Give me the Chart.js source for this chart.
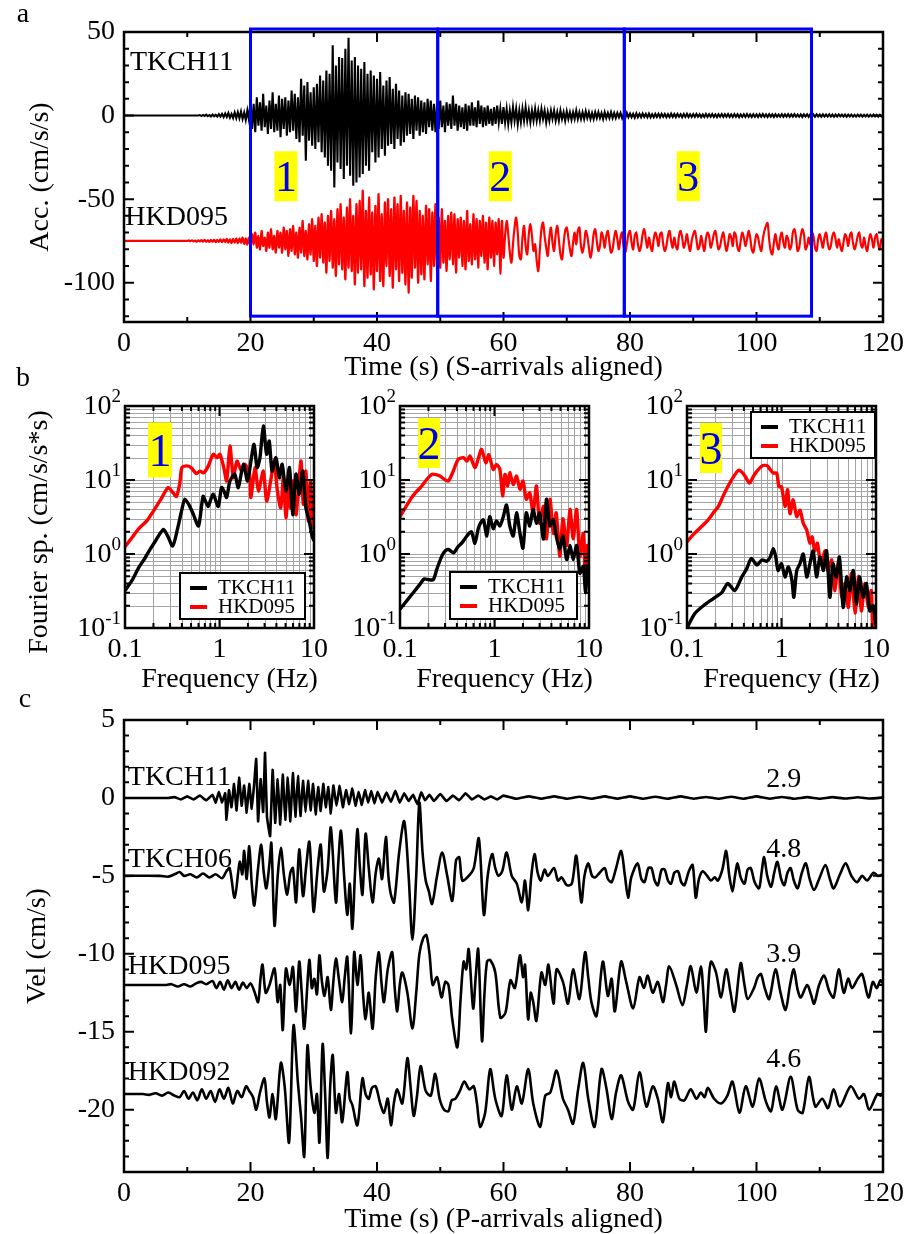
<!DOCTYPE html>
<html>
<head>
<meta charset="utf-8">
<script src="https://cdn.jsdelivr.net/npm/chart.js@4.4.0/dist/chart.umd.min.js"></script>
<style>
  body { margin: 0; background: #fff; }
  #wrap { position: relative; width: 909px; height: 1234px; overflow: hidden; }
  canvas { position: absolute; left: 0; top: 0; }
</style>
</head>
<body>
<div id="wrap">
  <canvas id="panelA" width="909" height="1234"></canvas>
  <canvas id="panelB1" width="909" height="1234"></canvas>
  <canvas id="panelB2" width="909" height="1234"></canvas>
  <canvas id="panelB3" width="909" height="1234"></canvas>
  <canvas id="panelC" width="909" height="1234"></canvas>
</div>
<script>
// ---- tick labels ----
const timeTicks = [0, 20, 40, 60, 80, 100, 120];
const accTicks = [50, 0, -50, -100];
const velTicks = [5, 0, -5, -10, -15, -20];
const freqTicks = [0.1, 1, 10];
const specTicks = [0.1, 1, 10, 100];

// ---- panel a: time windows ----
const windowEdges = [20, 49.6, 79.1, 108.7];
const windowRange = [-120, 51.8];
const windowNames = ['1', '2', '3'];
const windowLabelTimes = [25.6, 59.5, 89.2];
const windowLabelAcc = -36.3;

// ---- panel a: accelerations, one sample every accDt seconds ----
const accDt = 0.25;
const accTKCH11 = [
  0,0,0,0,0,0,0,0,0,0,0,0,0,0,0,0,0,0,0,0,
  0,0,0,0,0,0,0,0,0,0,0,0,0,0,0,0,0,0,0,0,
  0,0,0,0,0,0,0,0,0.3,-0.3,0.4,-0.2,0.5,-0.4,0.3,-0.5,0.6,-0.4,0.5,-0.6,
  0.8,-0.6,1,-0.9,1.2,-0.8,1.5,-1.2,1,-1.4,1.8,-1.5,2,-1.6,2.4,-2,1.8,-2.6,3,-2.4,
  9,-8,7,-10,11,-6,8,-9,13,-7,6,-11,9,-8,14,-10,7,-9,12,-13,
  10,-8,11,-12,9,-10,15,-9,13,-14,11,-16,22,-12,18,-27,20,-15,14,-18,
  17,-20,19,-16,24,-22,21,-25,27,-30,25,-33,42,-43,30,-28,35,-32,34.5,-38,
  40,-30,46.6,-36,33,-42,35,-40,30,-37,28,-35,32,-30,25,-33,27,-22,24,-28,
  22,-25,26,-20,18,-24,21,-18,23,-17,16,-20,19,-14,15,-18,12,-16,14,-12,
  13,-11,10,-14,12,-9,11,-12,9,-10,8,-11,10,-7,9,-9,7,-10,8,-8,
  9,-7,6,-10,8,-6,7,-8,12,-6,7,-9,6,-7,5,-8,7,-9,6,-6,
  8,-6,5,-7,9,-5,6,-7,5,-6,6,-5,4,-6,5,-5,6,-4,4,-5,
  5,-4,4,-5,3,-4,5,-3,4,-5,3,-4,4,-3,5,-3,3,-4,3,-3,
  4,-3,3,-3,4,-2,3,-4,2,-3,3,-2,3,-3,2,-3,3,-2,2,-3,
  2.5,-2,2,-2.5,2,-2,3,-2,2,-2,2,-2,2.5,-1.5,2,-2,1.5,-2,2,-1.5,
  2,-1.5,1.5,-2,2,-1.5,1.5,-1.5,2,-1.5,1.5,-1.5,1.5,-1,1.5,-1.5,1,-1.5,1.5,-1,
  1.2,-1,1,-1.2,1.3,-1,1,-1,1.2,-0.8,1,-1,1.2,-1,0.8,-1,1,-0.8,1,-1,
  1,-0.8,0.9,-1,0.8,-0.9,1.1,-0.8,0.9,-0.9,1,-0.7,0.8,-1,0.9,-0.8,1,-0.9,0.8,-0.8,
  0.9,-0.8,1,-0.7,0.8,-0.9,0.7,-0.8,1,-0.8,0.8,-0.7,0.9,-0.8,0.7,-0.9,0.8,-0.7,0.9,-0.8,
  0.8,-0.7,0.9,-0.8,0.7,-0.8,0.9,-0.7,0.8,-0.9,0.7,-0.7,0.8,-0.8,0.9,-0.7,0.7,-0.8,0.8,-0.7,
  0.7,-0.8,0.8,-0.7,0.9,-0.7,0.7,-0.8,0.8,-0.6,0.7,-0.8,0.8,-0.7,0.6,-0.7,0.8,-0.7,0.7,-0.6,
  0.8,-0.7,0.7,-0.6,0.8,-0.7,0.6,-0.7,0.7,-0.8,0.7,-0.6,0.7,-0.7,0.8,-0.6,0.6,-0.7,0.7,-0.6,
  0.6,-0.7,0.7,-0.6,0.6,-0.6,0.7,-0.6,0.6,-0.7,0.6,-0.6,0.7,-0.5,0.6,-0.6,0.6,-0.7,0.6,-0.5,
  0.6,-0.6,0.5,-0.6,0.6,-0.5,0.6,-0.6,0.5,-0.5,0.6,-0.6,0.5,-0.5,0.6,-0.5,0.5,-0.6,0.5,-0.5,
  0
];
const accHKD095Base = -75;
const accHKD095 = [
  0,0,0,0,0,0,0,0,0,0,0,0,0,0,0,0,0,0,0,0,
  0,0,0,0,0,0,0,0,0,0,0,0,0,0,0,0,0,0,0,0,
  0,0.3,-0.2,0.4,-0.3,0.2,-0.5,0.4,-0.3,0.5,-0.4,0.6,-0.5,0.4,-0.6,0.7,-0.5,0.6,-0.8,0.7,
  -0.6,0.9,-0.8,1,-0.7,1.2,-1,0.9,-1.3,1.2,-1,1.5,-1.4,1.6,-1.2,2,-1.8,1.5,-2.2,2,
  -3,4,-2,5,-4,3,-5,6,-3,2,-6,5,-4,7,-5,3,-7,6,-4,5,
  -7,8,-5,6,-9,7,-6,9,-8,5,-10,8,-7,12,-9,6,-11,10,-8,13,
  -12,9,-15,14,-10,16,-13,11,-19,15,-12,18,-16,13,-21,19,-14,22,-17,14,
  -23,20,-16,25,-18,15,-26,22,-19,24,-17,30,-27,18,-22,26,-20,17,-29,21,
  -18,28,-24,16,-27,23,-15,25,-21,19,-28,26,-17,22,-24,27,-19,18,-26,23,
  -31,20,-22,27,-16,24,-25,18,-20,15,-23,21,-14,19,-24,17,-15,22,-18,14,
  -16,19,-13,12,-18,15,-11,17,-14,16,-19,13,-10,14,-15,12,-17,18,-12,10,
  -14,16,-11,13,-16,12,-9,15,-13,11,-17,14,-10,12,-15,11,-8,13,-19.6,12,
  -10,3,12,4,-7,-13,-2,8,14,5,-9,-11,2,9,-3,-8,4,10,3,-6,
  -2,-12,-18,-5,7,11,3,-4,-9,2,8,-1,-6,4,9,1,-8,-11,-2,6,
  8,2,-5,-9,-1,5,-2,6,8,-3,-7,-2,6,3,-4,-10,-5,4,7,0,
  -6,-3,5,2,-4,3,6,-1,-7,-5,2,6,1,-5,2,5,-3,-7,-2,4,
  6,-1,-5,3,5,-2,-6,-3,4,7,1,-4,2,-3,-6,1,5,2,-3,4,
  5,-2,-6,-3,3,6,0,-4,2,-3,-5,3,6,2,-4,-1,4,-2,-6,0,
  4,6,1,-5,-3,3,-2,-6,1,5,3,-4,-1,4,6,0,-5,-3,2,5,
  -1,-6,-2,4,2,-3,5,3,-4,-6,0,5,2,-3,1,6,2,-5,-7,-1,
  4,2,-3,-6,1,6,9,10.7,1,-6,-8,-1,4,-2,-5,2,5,-1,-4,3,
  1,-5,-3,5,7,2,-6,-4,3,7,4,-5,-3,2,-2,5,3,-4,-6,1,
  4,0,-4,2,5,-1,-5,-3,3,5,1,-4,1,-3,-6,-1,4,2,-3,3,
  5,-1,-5,-2,3,5,-2,-4,2,-3,-6,0,4,1,-4,2,4,-2,-5,1,
  0
];

// ---- panel b: Fourier spectra, [frequency Hz, amplitude] ----
const spec1TKCH11 = [[0.1,0.32],[0.12,0.45],[0.14,0.66],[0.16,0.85],[0.18,1.1],[0.21,1.5],[0.254,2.15],[0.28,1.8],[0.32,1.28],[0.36,2.2],[0.4,4],[0.43,5.5],[0.48,4.5],[0.53,3.4],[0.6,2.4],[0.67,6],[0.72,5],[0.76,4.4],[0.81,5.5],[0.86,6.4],[0.97,4.4],[1.05,7.9],[1.12,7],[1.19,5.8],[1.29,9.7],[1.45,12],[1.58,7.9],[1.79,16.3],[1.98,9.7],[2.15,18],[2.32,30.3],[2.5,14.7],[2.68,20],[2.91,53.6],[3.15,22.3],[3.36,33.6],[3.6,13.2],[3.96,20],[4.3,10.7],[4.6,16.3],[5.05,7.1],[5.5,14.7],[5.96,3.4],[6.45,12],[7,6.4],[7.6,13.2],[8.2,4.2],[8.9,2.8],[9.6,1.7],[10,1.5]];
const spec1HKD095 = [[0.1,1.25],[0.12,1.7],[0.14,2.2],[0.17,2.8],[0.2,3.8],[0.24,5.5],[0.287,7.9],[0.32,6.8],[0.35,6],[0.38,9],[0.4,14.7],[0.45,15.5],[0.5,14.7],[0.57,12.2],[0.62,13.2],[0.68,12.5],[0.76,15.4],[0.86,22.3],[0.94,20],[1.01,22.3],[1.11,14.7],[1.19,9.7],[1.29,28.8],[1.4,10.7],[1.53,18],[1.71,13.2],[1.86,16.3],[2.08,12],[2.15,5.8],[2.38,14.7],[2.58,7.1],[2.91,13.2],[3.15,5.2],[3.48,9.7],[3.77,18],[4.1,7.1],[4.45,4.2],[4.74,10.7],[5.05,3.1],[5.4,8.8],[5.65,4.2],[6,9.7],[6.45,3.4],[6.8,7.1],[7.3,18],[7.7,4.7],[8.2,13.2],[8.7,2.8],[9.2,9.7],[9.6,2.3],[10,3.4]];
const spec2TKCH11 = [[0.1,0.18],[0.12,0.24],[0.138,0.3],[0.16,0.38],[0.18,0.46],[0.2,0.45],[0.225,0.45],[0.245,0.62],[0.276,0.93],[0.3,1.1],[0.325,1.15],[0.37,1.04],[0.41,1.25],[0.45,1.4],[0.51,1.75],[0.57,2],[0.62,1.4],[0.68,2.3],[0.76,2.9],[0.83,1.75],[0.89,3.2],[0.97,2.2],[1.05,2.8],[1.14,2.4],[1.24,3.2],[1.34,4.6],[1.45,2.4],[1.58,1.75],[1.71,3.6],[1.86,1.9],[2,1.2],[2.17,3.6],[2.36,2.4],[2.56,4],[2.78,2.6],[3,3.6],[3.3,1.6],[3.55,5.5],[3.86,2.4],[4.2,2.9],[4.5,1.75],[4.9,1.15],[5.3,1.75],[5.8,0.84],[6.3,1.3],[6.8,0.84],[7.4,1.3],[8,0.55],[8.7,0.68],[9.2,0.3],[9.6,0.68],[10,0.45]];
const spec2HKD095 = [[0.1,3.2],[0.115,4.3],[0.133,5.8],[0.15,7],[0.17,8.3],[0.19,10],[0.216,11.9],[0.24,11.8],[0.265,11.3],[0.295,10.2],[0.325,9.7],[0.36,12.5],[0.414,19],[0.47,20],[0.51,18],[0.55,21],[0.62,14.7],[0.67,19],[0.73,25.9],[0.81,17.1],[0.87,22],[0.97,13.9],[1.05,16.2],[1.14,13.9],[1.22,6.1],[1.29,11.9],[1.38,8.3],[1.45,12.6],[1.58,8.7],[1.71,11.3],[1.86,7.5],[2,9.7],[2.17,5.5],[2.36,6.7],[2.56,3.6],[2.78,8.3],[3,2.6],[3.3,4.4],[3.55,1.6],[3.86,5.5],[4.2,1.9],[4.5,3.6],[4.9,0.93],[5.3,3],[5.8,1.3],[6.3,4],[6.8,1.6],[7.4,4],[8,0.93],[8.7,1.9],[9.2,0.37],[9.6,1.3],[10,1]];
const spec3TKCH11 = [[0.1,0.1],[0.12,0.155],[0.149,0.2],[0.19,0.25],[0.233,0.3],[0.27,0.4],[0.32,0.32],[0.38,0.49],[0.43,0.64],[0.48,0.87],[0.55,0.71],[0.62,0.83],[0.7,0.8],[0.76,0.91],[0.82,1.18],[0.87,0.91],[0.92,0.6],[1,0.74],[1.09,0.49],[1.18,0.67],[1.29,0.44],[1.35,0.26],[1.45,0.6],[1.57,0.74],[1.7,1],[1.85,0.49],[2,0.74],[2.16,1.1],[2.35,0.49],[2.55,0.91],[2.78,0.6],[3,1.1],[3.25,0.26],[3.5,0.74],[3.8,0.49],[4.1,0.91],[4.5,0.19],[4.9,0.49],[5.3,0.32],[5.75,0.6],[6.2,0.21],[6.7,0.49],[7.3,0.26],[7.9,0.4],[8.6,0.17],[9.3,0.2],[10,0.11]];
const spec3HKD095 = [[0.1,1.46],[0.115,1.8],[0.13,2.1],[0.15,2.5],[0.168,2.9],[0.19,3.6],[0.215,4.4],[0.24,6],[0.27,8.1],[0.31,11],[0.35,13.5],[0.38,12.8],[0.41,11.3],[0.46,9.1],[0.5,11],[0.54,12.8],[0.62,15.4],[0.7,15.7],[0.76,13.8],[0.82,12.4],[0.89,12.4],[0.94,8.1],[1,8.1],[1.09,4.4],[1.16,7.4],[1.23,3.5],[1.33,5.4],[1.45,3.2],[1.57,3.9],[1.7,2.6],[1.85,2.1],[2,1.4],[2.11,1.7],[2.25,1.1],[2.4,1.4],[2.6,0.74],[2.9,1.1],[3.1,0.6],[3.4,0.83],[3.65,0.32],[4,0.74],[4.35,0.26],[4.7,0.4],[5.1,0.19],[5.5,0.55],[6,0.16],[6.5,0.5],[7,0.17],[7.6,0.4],[8.3,0.19],[8.9,0.32],[9.3,0.09],[10,0.14]];

// ---- panel c: velocities, [time s, cm/s] (traces already offset) ----
const velTKCH11 = [[0,0],[7,0],[8,0.05],[9,-0.1],[10,0.1],[11,-0.1],[12,0.15],[13,-0.15],[14,0.2],[14.5,-0.3],[15,0.4],[15.5,-0.3],[16,0.3],[16.2,-1.4],[16.6,0.5],[17,-0.6],[17.4,0.9],[17.8,-0.8],[18.2,1.3],[18.6,-0.5],[19,0.8],[19.4,-0.95],[19.8,0.9],[20.2,-0.7],[20.6,1],[20.9,2.5],[21.2,-1.5],[21.6,1.2],[22,-0.9],[22.3,2.9],[22.6,-1.2],[23.1,-2.45],[23.5,1.8],[23.9,-1.6],[24.3,1.2],[24.7,-1.7],[25.1,1.5],[25.5,-1.4],[25.9,1.3],[26.3,-1.5],[26.7,1.6],[27.1,-1.2],[27.5,1.4],[27.9,-1.16],[28.3,1.1],[28.7,-0.9],[29.1,1.1],[29.5,-0.8],[29.9,0.9],[30.3,-1.05],[30.7,0.7],[31.1,-0.84],[31.5,0.9],[31.9,-0.6],[32.3,0.7],[32.7,-1],[33.1,0.8],[33.6,-0.5],[34.1,0.77],[34.6,-0.6],[35.1,0.5],[35.6,-0.4],[36.1,0.6],[36.6,-0.5],[37.1,0.4],[37.6,-0.45],[38.1,0.5],[38.6,-0.3],[39.1,0.45],[39.6,-0.35],[40.1,0.4],[40.8,-0.3],[41.5,0.35],[42.2,-0.25],[42.9,0.45],[43.6,-0.3],[44.3,0.3],[45,-0.2],[45.7,0.2],[46.4,-0.4],[47,0.35],[47.6,-0.15],[48.3,0.2],[49,-0.2],[50,0.25],[51,-0.2],[52,0.15],[53,-0.15],[54,0.3],[55,-0.1],[56,0.15],[57,-0.1],[58,0.1],[59,-0.1],[60,0.15],[62,-0.05],[64,0.1],[66,-0.05],[68,0.1],[70,-0.05],[72,0.08],[74,-0.05],[76,0.1],[78,-0.05],[80,0.1],[82,-0.05],[84,0.08],[86,-0.05],[88,0.1],[90,-0.05],[92,0.06],[94,-0.05],[96,0.08],[98,-0.05],[100,0.1],[102,-0.05],[104,0.06],[106,-0.05],[108,0.05],[110,-0.05],[112,0.05],[114,-0.04],[116,0.04],[118,-0.04],[120,0.03]];
const velTKCH06 = [[0,-5],[5.7,-5],[7,-5.05],[8,-4.9],[8.8,-4.75],[9.5,-5],[10.5,-4.9],[11.5,-5.1],[12.5,-4.85],[13.5,-5.1],[14.5,-4.9],[15.5,-5.15],[16.2,-4.7],[16.7,-4.5],[17.5,-6.4],[18.3,-4.1],[18.7,-4.9],[19,-3.4],[19.4,-5.2],[19.8,-3.1],[20.2,-5.5],[20.6,-6.9],[21.2,-4.5],[21.7,-3],[22.1,-4.8],[22.5,-5.8],[23,-4.2],[23.3,-2.9],[23.8,-8.2],[24.3,-5],[24.8,-3.2],[25.3,-5],[25.8,-6.2],[26.3,-4.8],[26.7,-4.5],[27.2,-6.7],[27.7,-3.3],[28.3,-6.3],[28.8,-4.4],[29.3,-2.8],[29.7,-5.5],[30,-7.3],[30.6,-4.6],[31.1,-3],[31.6,-6],[32.2,-4.6],[32.7,-1.9],[33.5,-6.7],[33.9,-4],[34.3,-2.1],[34.8,-5],[35.3,-7.5],[35.7,-5.5],[36.1,-8.4],[36.5,-5],[36.9,-2],[37.3,-4.5],[37.7,-6.2],[38.2,-2.3],[38.7,-4.5],[39.3,-6.7],[39.8,-4.8],[40.3,-3.9],[40.8,-5.2],[41.4,-2.5],[41.8,-5],[42.2,-6.2],[42.7,-6.7],[43.5,-3.5],[44.3,-1.5],[45,-5],[45.6,-9.1],[46.2,-5],[46.7,-0.3],[47.2,-3.5],[47.7,-5.3],[48.2,-6],[48.7,-6.8],[49.5,-5],[50.3,-3.5],[51.1,-5],[51.9,-6.6],[52.5,-4],[53,-3.8],[53.5,-5.3],[54.5,-5],[55.3,-4.5],[56.1,-2.6],[56.9,-7.5],[57.5,-5],[58.2,-3.6],[58.7,-4.5],[59.2,-5],[59.8,-4.7],[60.5,-3.5],[61.3,-5],[62.1,-5.5],[62.9,-6.7],[63.4,-5.3],[63.9,-7.2],[64.4,-5],[64.9,-3.6],[65.4,-4.8],[65.9,-5.3],[66.5,-4.6],[67,-5],[68,-4.5],[68.6,-5.3],[69.2,-5.1],[70,-5.6],[70.8,-5.5],[71.5,-3.7],[72.3,-6.7],[72.8,-5],[73.4,-4.2],[74,-5],[74.5,-5.1],[75.2,-4.8],[76,-4.5],[76.5,-5.2],[77.1,-5.4],[77.8,-4.5],[78.6,-3.4],[79.2,-5],[79.7,-6.4],[80.2,-5.1],[81.2,-4.2],[81.8,-5.2],[82.3,-5.4],[82.9,-4.5],[83.4,-4.5],[83.9,-5.3],[84.4,-5.6],[85,-4.6],[85.5,-4.6],[86,-5.3],[86.5,-5.5],[87,-4.8],[87.6,-4.7],[88.1,-5.4],[88.6,-5.6],[89.3,-4.7],[89.9,-4.3],[90.4,-6.4],[90.9,-5.2],[91.5,-4.7],[92.2,-5],[92.8,-5.3],[93.4,-5.1],[93.9,-5.3],[94.6,-4.6],[95.2,-3.4],[95.7,-5],[96.2,-6],[96.6,-5],[97,-4.2],[97.5,-5.1],[98.1,-5.5],[98.6,-4.6],[99.1,-4.5],[99.7,-5.4],[100.4,-5.8],[100.8,-4.8],[101.2,-3.8],[101.7,-5],[102.3,-5.7],[102.8,-4.8],[103.3,-4.1],[103.9,-5.2],[104.4,-5.6],[104.9,-4.8],[105.4,-4.5],[105.9,-5.3],[106.5,-5.8],[107.1,-4.9],[107.8,-4.2],[108.4,-5.2],[109.1,-5.9],[109.9,-5.2],[110.9,-4.3],[111.6,-5.2],[112.2,-5.8],[113.2,-4.9],[114.1,-4.2],[115,-5],[115.9,-5.4],[116.7,-5],[117.5,-5.3],[118.5,-4.8],[119.2,-5],[120,-4.9]];
const velHKD095 = [[0,-12],[6.7,-12],[7.5,-11.95],[8.5,-12.1],[9.5,-11.95],[10.5,-12.1],[11.4,-11.9],[12.2,-11.8],[13,-11.95],[14,-11.75],[14.6,-12.2],[15.2,-11.8],[15.8,-12.3],[16.4,-11.7],[17,-12.2],[17.6,-11.8],[18.2,-12.3],[18.8,-11.85],[19.4,-12.2],[20,-11.9],[20.6,-12.4],[21.2,-13.1],[21.6,-11.5],[21.9,-10.7],[22.4,-12.5],[23,-12],[23.8,-10.95],[24.3,-13.1],[24.7,-12],[25.1,-14.9],[25.6,-10.95],[26.2,-12],[26.7,-10.85],[27.2,-13.7],[27.7,-10.5],[28.1,-12.5],[28.5,-14.8],[29.3,-10.4],[29.7,-12.2],[30.1,-11.6],[30.5,-12.6],[30.9,-10.1],[31.3,-11.8],[31.7,-12.7],[32.2,-11.5],[32.7,-13.6],[33.1,-11.8],[33.5,-10.3],[34,-11.7],[34.5,-13.1],[34.9,-11.5],[35.3,-10.2],[35.9,-15.1],[36.4,-9.9],[36.9,-12],[37.4,-10.1],[37.8,-12.6],[38.2,-14.2],[38.7,-12.5],[39.3,-14.8],[39.8,-11.5],[40.3,-9.9],[40.7,-11.8],[41.1,-13.1],[41.7,-11],[42.4,-9.9],[42.8,-12.2],[43.2,-13.7],[43.6,-12],[44,-11.2],[44.8,-12.5],[45.6,-14.8],[46.2,-12.5],[46.7,-10],[47.3,-9],[47.8,-8.8],[48.3,-10],[48.8,-12],[49.5,-11.5],[50.2,-12.8],[50.8,-11.8],[51.3,-12],[51.9,-14.2],[52.7,-16],[53.2,-13],[53.7,-10.5],[54.1,-11],[54.5,-9.7],[55.2,-13.5],[55.6,-11.5],[56,-9.7],[56.6,-15.6],[57,-12.5],[57.4,-10.5],[57.9,-10.4],[58.7,-11.2],[59.5,-14.1],[60.3,-13.8],[61.1,-11.7],[61.8,-12.2],[62.6,-10.1],[63.1,-11.5],[63.4,-10.7],[63.9,-14.2],[64.3,-12.5],[64.7,-13.1],[65.2,-14.3],[66,-11.2],[66.6,-12],[67.1,-10.7],[67.9,-13.2],[68.4,-11],[69.4,-11.8],[70.2,-13.2],[71,-11],[72,-12.9],[72.9,-9.9],[73.4,-11.5],[73.9,-13.1],[74.7,-14],[75.7,-10.5],[76.5,-12.7],[77.1,-11.6],[77.6,-13.7],[78.6,-10.5],[79.4,-11.8],[80.5,-13.5],[81.5,-11.5],[82.2,-12.2],[82.8,-11.4],[83.6,-12.5],[84.4,-11.8],[85.2,-13.1],[85.7,-12],[86.2,-10.8],[87.3,-12],[88.3,-13.3],[89,-12],[89.6,-10.8],[90.5,-12.5],[91.2,-10.8],[91.6,-12.5],[92,-15],[92.4,-12],[92.8,-10.5],[93.6,-11.2],[94.4,-12.8],[95.2,-11],[95.9,-12.5],[96.5,-13.7],[97.5,-10.6],[98.1,-12],[98.6,-12.9],[99.6,-12.2],[100.2,-11.5],[100.7,-11.3],[101.3,-12.2],[102,-12.9],[103,-11],[103.8,-12.5],[104.6,-13.6],[105.3,-12],[105.9,-11],[106.5,-12.3],[107,-12.8],[108,-12],[108.6,-12.6],[109.1,-13.2],[109.9,-12],[110.7,-11.4],[111.5,-12.4],[112.2,-12.8],[113,-11],[113.8,-12.5],[114.5,-11.6],[115.1,-12.2],[116,-11.6],[116.7,-11.3],[117.7,-12.8],[118.4,-11.8],[119,-12.2],[119.6,-11.7],[120,-11.9]];
const velHKD092 = [[0,-19],[3,-19],[4,-19.05],[5,-18.95],[6,-19.1],[7,-18.9],[8,-19.1],[8.8,-19.2],[9.5,-18.8],[10.2,-19.3],[10.9,-18.9],[11.6,-19.4],[12.3,-18.7],[13,-19.3],[13.7,-18.8],[14.4,-19.5],[15.1,-18.7],[15.8,-19.3],[16.5,-18.6],[17.2,-19.6],[17.9,-18.8],[18.6,-19.2],[19.3,-18.5],[19.8,-18.8],[20.4,-19.2],[20.9,-20],[21.5,-18.9],[22.2,-18],[22.6,-19.5],[23,-20.5],[23.5,-19],[24,-20.6],[24.8,-17],[25.4,-18.5],[26.1,-22.1],[26.8,-14.6],[27.5,-18.3],[28,-20.5],[28.5,-23],[29,-15.9],[29.5,-18.5],[30.1,-20.2],[30.5,-19],[30.9,-22.1],[31.4,-15.8],[31.8,-19],[32.2,-23.1],[32.6,-18.5],[33,-16.5],[33.5,-20.2],[34,-19],[34.5,-20.8],[35.3,-17.6],[35.7,-19.3],[36.1,-19.7],[36.9,-21],[37.7,-18],[38.2,-19],[38.7,-19.3],[39.2,-18.6],[39.8,-18.5],[40.5,-19.6],[41.1,-20.2],[41.7,-19.3],[42.2,-21],[42.7,-19.5],[43.2,-18.7],[44,-19.6],[44.8,-16.7],[45.3,-18.5],[45.8,-20.4],[46.3,-19.2],[46.9,-17.2],[47.7,-18.8],[48.5,-19.1],[49.2,-17.7],[49.9,-19.3],[50.6,-20],[51.3,-20.1],[51.8,-19.4],[52.4,-19.3],[53.1,-18.8],[53.8,-18.2],[54.6,-18.7],[55.3,-18.5],[55.8,-19.6],[56.3,-21.1],[57.1,-20.2],[57.9,-17.4],[58.7,-19.3],[59.7,-20.4],[60.5,-17.8],[61.3,-20],[62.1,-18.5],[62.9,-19.6],[63.9,-17.4],[64.7,-19.6],[65.8,-21.1],[66.6,-19.1],[67.4,-18.9],[68.4,-17.5],[69.4,-19.3],[70.2,-20],[71,-20.9],[71.8,-18.7],[72.6,-17],[73.4,-19.3],[74.4,-21.1],[75.5,-17.4],[76.3,-18.7],[77.1,-20.6],[77.8,-18.9],[78.6,-17.8],[79.7,-19.5],[80.5,-20],[81.5,-17.6],[82.6,-19.8],[83.6,-18.5],[84.4,-19.3],[85.2,-20.8],[86,-18.3],[86.5,-19.2],[87,-18.2],[87.8,-19.3],[88.6,-19.4],[89.6,-18.7],[90.5,-19.3],[91.2,-18.9],[91.8,-19.2],[92.3,-18.6],[93.3,-19.3],[94.4,-19.6],[95.4,-19.1],[96.2,-18.2],[97.3,-20.2],[98.3,-18.5],[99.4,-19.8],[100.4,-18],[101.5,-19.5],[102.3,-20.1],[103.1,-18.5],[104.1,-20],[105.4,-17.9],[106.5,-20],[107.3,-20.2],[108.3,-17.9],[109.3,-19.8],[110.4,-19.3],[111.3,-19.9],[112.2,-18.7],[113.2,-19.8],[114.9,-18.5],[116.2,-19.3],[117,-19],[117.8,-20],[119.1,-19],[119.6,-19.1],[120,-18.9]];
const velNames = ['TKCH11', 'TKCH06', 'HKD095', 'HKD092'];
const velNameAt = [1.3, -3.96, -10.85, -17.6];
const velPeaks = ['2.9', '4.8', '3.9', '4.6'];
const velPeakAt = [1.2, -3.3, -10.06, -16.8];

// ---------------------------------------------------------------
const serif = '"Liberation Serif", "Times New Roman", serif';
const fontSize = 28;
Chart.defaults.font.family = serif;
Chart.defaults.font.size = fontSize;
Chart.defaults.color = '#000';

function text(ctx, str, x, y, opt = {}) {
  ctx.save();
  ctx.translate(x, y);
  if (opt.rotate) ctx.rotate(opt.rotate);
  ctx.font = (opt.size || fontSize) + 'px ' + serif;
  ctx.fillStyle = opt.color || '#000';
  ctx.textAlign = opt.align || 'center';
  ctx.textBaseline = opt.baseline || 'middle';
  ctx.fillText(str, 0, 0);
  ctx.restore();
}

function linSteps(min, max, step) {
  const out = [];
  for (let v = Math.ceil(min / step) * step; v <= max + 1e-9; v += step) out.push(+v.toFixed(6));
  return out;
}
function logSteps(min, max, majorOnly) {
  const out = [];
  for (let e = Math.floor(Math.log10(min)); e <= Math.ceil(Math.log10(max)); e++) {
    for (let m = 1; m < 10; m++) {
      if (majorOnly && m > 1) continue;
      const v = m * Math.pow(10, e);
      if (v >= min * 0.999 && v <= max * 1.001) out.push(v);
    }
  }
  return out;
}
const fixTicks = values => scale => { scale.ticks = values.map(v => ({ value: v })); };

// frame, inward ticks, optional log grid, plus panel-specific extras
function decor(cfg) {
  return {
    id: 'decor',
    beforeDatasetsDraw(chart) {
      if (!cfg.log) return;
      const { ctx, chartArea: a, scales: { x, y } } = chart;
      ctx.save();
      ctx.strokeStyle = '#a4a4a4';
      ctx.lineWidth = 1;
      ctx.beginPath();
      logSteps(x.min, x.max).forEach(v => {
        const px = Math.round(x.getPixelForValue(v)) + 0.5;
        ctx.moveTo(px, a.top); ctx.lineTo(px, a.bottom);
      });
      logSteps(y.min, y.max).forEach(v => {
        const py = Math.round(y.getPixelForValue(v)) + 0.5;
        ctx.moveTo(a.left, py); ctx.lineTo(a.right, py);
      });
      ctx.stroke();
      ctx.restore();
    },
    afterDatasetsDraw(chart) {
      const { ctx, chartArea: a, scales: { x, y } } = chart;
      const xMaj = cfg.log ? logSteps(x.min, x.max, true) : linSteps(x.min, x.max, cfg.xMajor);
      const xMin = cfg.log ? logSteps(x.min, x.max) : linSteps(x.min, x.max, cfg.xMinor);
      const yMaj = cfg.log ? logSteps(y.min, y.max, true) : linSteps(y.min, y.max, cfg.yMajor);
      const yMin = cfg.log ? logSteps(y.min, y.max) : linSteps(y.min, y.max, cfg.yMinor);
      ctx.save();
      ctx.strokeStyle = '#000';
      ctx.lineWidth = 2;
      ctx.beginPath();
      const tx = (v, len) => {
        const px = x.getPixelForValue(v);
        ctx.moveTo(px, a.bottom); ctx.lineTo(px, a.bottom - len);
        ctx.moveTo(px, a.top); ctx.lineTo(px, a.top + len);
      };
      const ty = (v, len) => {
        const py = y.getPixelForValue(v);
        ctx.moveTo(a.left, py); ctx.lineTo(a.left + len, py);
        ctx.moveTo(a.right, py); ctx.lineTo(a.right - len, py);
      };
      xMin.forEach(v => tx(v, 5));
      xMaj.forEach(v => tx(v, 10));
      yMin.forEach(v => ty(v, 5));
      yMaj.forEach(v => ty(v, 10));
      ctx.stroke();
      ctx.lineWidth = 2.5;
      ctx.strokeRect(a.left, a.top, a.right - a.left, a.bottom - a.top);
      ctx.restore();
      if (cfg.extra) cfg.extra(chart);
    }
  };
}

function yellowTag(ctx, str, cx, cy, w, h, size) {
  ctx.save();
  ctx.fillStyle = '#ffff00';
  ctx.fillRect(cx - w / 2, cy - h / 2, w, h);
  ctx.restore();
  text(ctx, str, cx, cy + size * 0.34, { size: size, color: '#0000e6', baseline: 'alphabetic' });
}

function baseOptions(pad) {
  return {
    responsive: false,
    animation: false,
    devicePixelRatio: 1,
    layout: { padding: pad },
    plugins: { legend: { display: false }, tooltip: { enabled: false } },
    elements: { point: { radius: 0 } },
    scales: {}
  };
}

function linearAxis(min, max, ticks, isX, size) {
  return {
    type: 'linear', min: min, max: max,
    grid: { display: false, drawTicks: false },
    border: { display: false },
    afterBuildTicks: fixTicks(ticks),
    afterFit: isX ? (s => { s.height = size; }) : (s => { s.width = size; }),
    ticks: { padding: isX ? 5 : 9, maxRotation: 0, autoSkip: false }
  };
}

// ---------------- panel a ----------------
const optA = baseOptions({ left: 0, right: 23, top: 32, bottom: 872 });
optA.scales.x = linearAxis(0, 120, timeTicks, true, 40);
optA.scales.y = linearAxis(-123.5, 50, accTicks, false, 124);

new Chart(document.getElementById('panelA'), {
  type: 'line',
  data: {
    datasets: [
      { label: 'TKCH11', data: accTKCH11.map((v, i) => ({ x: i * accDt, y: v })), borderColor: '#000', borderWidth: 2.1, tension: 0 },
      { label: 'HKD095', data: accHKD095.map((v, i) => ({ x: i * accDt, y: accHKD095Base + v })), borderColor: '#ff0000', borderWidth: 2.2, tension: 0.35 }
    ]
  },
  options: optA,
  plugins: [decor({
    xMajor: 20, xMinor: 10, yMajor: 50, yMinor: 10,
    extra(chart) {
      const { ctx, chartArea: a, scales: { x, y } } = chart;
      ctx.save();
      ctx.strokeStyle = '#0000ff';
      ctx.lineWidth = 3;
      const yt = y.getPixelForValue(windowRange[1]), yb = y.getPixelForValue(windowRange[0]);
      for (let i = 0; i < windowNames.length; i++) {
        const x0 = x.getPixelForValue(windowEdges[i]), x1 = x.getPixelForValue(windowEdges[i + 1]);
        ctx.strokeRect(x0, yt, x1 - x0, yb - yt);
      }
      ctx.restore();
      windowNames.forEach((n, i) => {
        yellowTag(ctx, n, x.getPixelForValue(windowLabelTimes[i]), y.getPixelForValue(windowLabelAcc), 23, 50, 44);
      });
      text(ctx, 'TKCH11', x.getPixelForValue(0.95), y.getPixelForValue(31.6), { align: 'left' });
      text(ctx, 'HKD095', x.getPixelForValue(0.2), y.getPixelForValue(-61), { align: 'left' });
      text(ctx, 'Acc. (cm/s/s)', 41, (a.top + a.bottom) / 2, { rotate: -Math.PI / 2 });
      text(ctx, 'Time (s) (S-arrivals aligned)', (a.left + a.right) / 2, 368);
      text(ctx, 'a', 23, 22, { baseline: 'alphabetic' });
      text(ctx, 'b', 23, 386, { baseline: 'alphabetic' });
    }
  })]
});

// ---------------- panel b ----------------
function spectrumChart(id, padLeft, padRight, black, red, tag, legendBox, showYTitle) {
  const opt = baseOptions({ left: padLeft, right: padRight, top: 406, bottom: 566 });
  opt.scales.x = {
    type: 'logarithmic', min: 0.1, max: 10,
    grid: { display: false, drawTicks: false }, border: { display: false },
    afterBuildTicks: fixTicks(freqTicks),
    afterFit: s => { s.height = 40; },
    ticks: { padding: 5, maxRotation: 0, autoSkip: false, callback: v => String(v) }
  };
  opt.scales.y = {
    type: 'logarithmic', min: 0.1, max: 100,
    grid: { display: false, drawTicks: false }, border: { display: false },
    afterBuildTicks: fixTicks(specTicks),
    afterFit: s => { s.width = 125; },
    ticks: { display: false }
  };
  new Chart(document.getElementById(id), {
    type: 'line',
    data: {
      datasets: [
        { label: 'TKCH11', data: black.map(p => ({ x: p[0], y: p[1] })), borderColor: '#000', borderWidth: 3.4, tension: 0.25 },
        { label: 'HKD095', data: red.map(p => ({ x: p[0], y: p[1] })), borderColor: '#ff0000', borderWidth: 3.4, tension: 0.25 }
      ]
    },
    options: opt,
    plugins: [decor({
      log: true,
      extra(chart) {
        const { ctx, chartArea: a, scales: { y } } = chart;
        specTicks.forEach(v => {
          const py = y.getPixelForValue(v);
          const e = String(Math.round(Math.log10(v)));
          ctx.save(); ctx.font = '19px ' + serif; const sw = ctx.measureText(e).width; ctx.restore();
          text(ctx, e, a.left - 4 - sw, py - 9, { size: 19, align: 'left' });
          text(ctx, '10', a.left - 4 - sw, py + 1, { align: 'right' });
        });
        yellowTag(ctx, tag[0], a.left + tag[1], a.top + tag[2], tag[3], tag[4], 46);
        const lx = a.left + legendBox[0], ly = a.top + legendBox[1];
        ctx.save();
        ctx.fillStyle = '#fff';
        ctx.fillRect(lx, ly, legendBox[2], legendBox[3]);
        ctx.strokeStyle = '#000';
        ctx.lineWidth = 2;
        ctx.strokeRect(lx, ly, legendBox[2], legendBox[3]);
        chart.data.datasets.forEach((ds, i) => {
          const yy = ly + 15 + i * 19;
          ctx.strokeStyle = ds.borderColor;
          ctx.lineWidth = 4;
          ctx.beginPath(); ctx.moveTo(lx + 10, yy); ctx.lineTo(lx + 27, yy); ctx.stroke();
          text(ctx, ds.label, lx + 38, yy, { size: 21, align: 'left' });
        });
        ctx.restore();
        text(ctx, 'Frequency (Hz)', (a.left + a.right) / 2 + 10, 680);
        if (showYTitle) text(ctx, 'Fourier sp. (cm/s/s*s)', 40, 532, { rotate: -Math.PI / 2 });
      }
    })]
  });
}

spectrumChart('panelB1', 0, 595, spec1TKCH11, spec1HKD095, [windowNames[0], 35, 44, 24, 55], [55, 167, 125, 46], true);
spectrumChart('panelB2', 275, 320, spec2TKCH11, spec2HKD095, [windowNames[1], 29, 37, 22, 50], [50, 166, 127, 47], false);
spectrumChart('panelB3', 562, 33, spec3TKCH11, spec3HKD095, [windowNames[2], 24, 42, 22, 50], [64, 6, 124, 46], false);

// ---------------- panel c ----------------
const optC = baseOptions({ left: 0, right: 23, top: 720, bottom: 22 });
optC.scales.x = linearAxis(0, 120, timeTicks, true, 40);
optC.scales.y = linearAxis(-24, 5, velTicks, false, 124);

new Chart(document.getElementById('panelC'), {
  type: 'line',
  data: {
    datasets: [velTKCH11, velTKCH06, velHKD095, velHKD092].map((tr, i) => ({
      label: velNames[i],
      data: tr.map(p => ({ x: p[0], y: p[1] })),
      borderColor: '#000', borderWidth: 2.6, tension: i === 0 ? 0.1 : 0.3
    }))
  },
  options: optC,
  plugins: [decor({
    xMajor: 20, xMinor: 10, yMajor: 5, yMinor: 1,
    extra(chart) {
      const { ctx, chartArea: a, scales: { x, y } } = chart;
      velNames.forEach((n, i) => {
        text(ctx, n, x.getPixelForValue(0.6), y.getPixelForValue(velNameAt[i]), { align: 'left' });
        text(ctx, velPeaks[i], x.getPixelForValue(104.3), y.getPixelForValue(velPeakAt[i]));
      });
      text(ctx, 'Vel (cm/s)', 38, (a.top + a.bottom) / 2, { rotate: -Math.PI / 2 });
      text(ctx, 'Time (s) (P-arrivals aligned)', (a.left + a.right) / 2, 1220);
      text(ctx, 'c', 25, 707, { baseline: 'alphabetic' });
    }
  })]
});
</script>
</body>
</html>
